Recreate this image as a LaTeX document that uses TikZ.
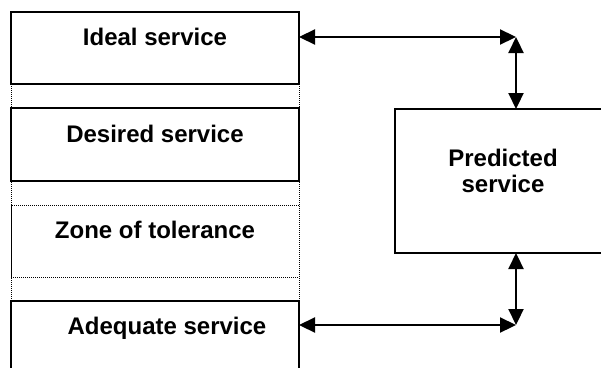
\documentclass[tikz,border=0pt]{standalone}
\usepackage{fontspec}
\setmainfont{Liberation Sans}
\usetikzlibrary{arrows.meta}
\tikzset{
  box/.style={draw=black,line width=2.2pt,minimum width=288pt,inner sep=0pt,outer sep=0pt},
  zonebox/.style={draw=black,densely dotted,line width=1pt,minimum width=288pt,inner sep=0pt,outer sep=0pt},
  label/.style={font=\fontsize{24}{26}\selectfont\bfseries,anchor=base,inner sep=0pt},
  headtip/.tip={Triangle[length=16pt 0,width=15pt 0]},
  link/.style={line width=2.2pt,headtip-headtip},
  guide/.style={densely dotted,line width=1pt}}
\begin{document}
\begin{tikzpicture}[x=1pt,y=-1pt]
\clip (0,0) rectangle (601,367);
\fill[white] (0,0) rectangle (601,367);
% service levels stacked on the left
\node[box,minimum height=72pt] (ideal) at (155,48) {};
\node[box,minimum height=73pt] (desired) at (155,144.5) {};
\node[zonebox,minimum height=72pt] (zone) at (155,241) {};
\node[box,minimum height=100pt] (adequate) at (155,351) {};
% dotted guides joining the levels
\draw[guide] (ideal.south west) -- (adequate.north west);
\draw[guide] (ideal.south east) -- (adequate.north east);
% level captions
\node[label] (idealtxt) at (155,45) {Ideal service};
\node[label] (desiredtxt) at (155,142) {Desired service};
\node[label] (zonetxt) at (155,238) {Zone of tolerance};
\node[label] (adequatetxt) at (167,334) {Adequate service};
% predicted service on the right
\node[box,minimum width=210pt,minimum height=144pt] (pred) at (500,181) {};
\node[label,align=center] (predtxt) at (503,192) {Predicted\\service};
% two-way links
\coordinate (tr) at (516,37);
\coordinate (br) at (516,325);
\draw[link] (tr -| ideal.east) -- (tr);
\draw[link] (tr) -- (tr |- pred.north);
\draw[link] (br -| adequate.east) -- (br);
\draw[link] (br) -- (br |- pred.south);
\end{tikzpicture}
\end{document}
